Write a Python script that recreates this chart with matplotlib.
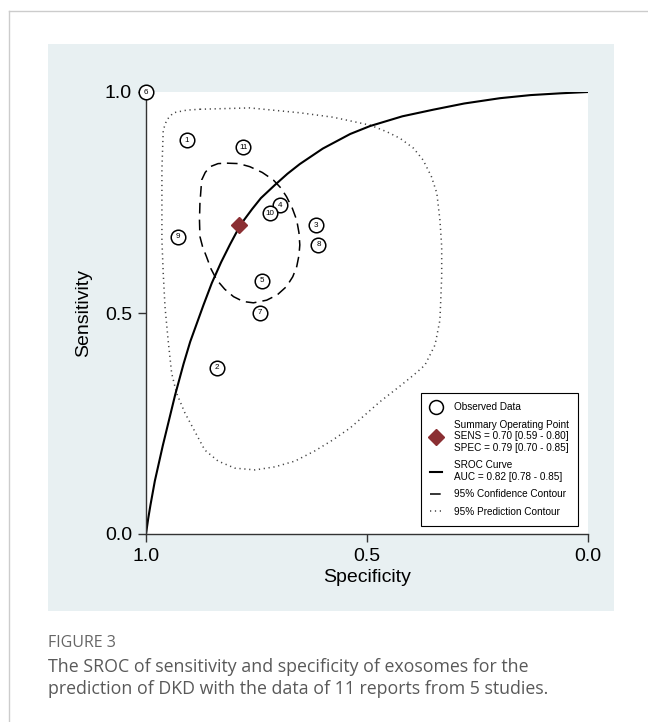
import matplotlib
matplotlib.use("Agg")
import matplotlib.pyplot as plt
from matplotlib.lines import Line2D
from matplotlib.patches import Rectangle

# observed studies (specificity, sensitivity)
study_ids = [1, 2, 3, 4, 5, 6, 7, 8, 9, 10, 11]
study_spec = [0.908, 0.839, 0.615, 0.697, 0.738, 1.000, 0.742, 0.610, 0.927, 0.719, 0.780]
study_sens = [0.891, 0.376, 0.698, 0.744, 0.573, 1.000, 0.501, 0.654, 0.673, 0.726, 0.875]

summary_spec = 0.79
summary_sens = 0.70

# SROC curve
sroc_spec = [1.0, 0.995, 0.99, 0.98, 0.962, 0.934, 0.915, 0.90, 0.87, 0.851, 0.83,
             0.81, 0.786, 0.76, 0.74, 0.708, 0.68, 0.652, 0.60, 0.538, 0.493,
             0.42, 0.35, 0.28, 0.199, 0.13, 0.063, 0.0]
sroc_sens = [0.0, 0.035, 0.065, 0.12, 0.20, 0.315, 0.385, 0.435, 0.518, 0.568, 0.615,
             0.655, 0.70, 0.735, 0.76, 0.79, 0.815, 0.837, 0.872, 0.905, 0.923,
             0.945, 0.960, 0.974, 0.986, 0.993, 0.997, 1.0]

# 95% confidence contour
conf_spec = [0.817, 0.790, 0.765, 0.737, 0.712, 0.695, 0.682, 0.669, 0.659, 0.654,
             0.652, 0.654, 0.659, 0.668, 0.682, 0.703, 0.727, 0.757, 0.780, 0.802,
             0.822, 0.840, 0.853, 0.863, 0.872, 0.878, 0.879, 0.878, 0.874, 0.866,
             0.855, 0.837, 0.817]
conf_sens = [0.839, 0.838, 0.831, 0.818, 0.801, 0.783, 0.763, 0.737, 0.710, 0.682,
             0.654, 0.630, 0.605, 0.582, 0.560, 0.541, 0.529, 0.523, 0.526, 0.537,
             0.554, 0.575, 0.600, 0.627, 0.650, 0.673, 0.710, 0.748, 0.801, 0.818,
             0.831, 0.838, 0.839]

# 95% prediction contour
pred_spec = [0.878, 0.765, 0.652, 0.577, 0.493, 0.455, 0.425, 0.395, 0.373, 0.354,
             0.342, 0.335, 0.331, 0.331, 0.335, 0.346, 0.369, 0.394, 0.425, 0.471,
             0.505, 0.538, 0.577, 0.618, 0.663, 0.708, 0.753, 0.799, 0.837, 0.867,
             0.889, 0.912, 0.931, 0.942, 0.950, 0.957, 0.961, 0.964, 0.964, 0.961,
             0.953, 0.938, 0.908, 0.878]
pred_sens = [0.961, 0.964, 0.953, 0.943, 0.925, 0.910, 0.895, 0.873, 0.846, 0.808,
             0.771, 0.710, 0.650, 0.582, 0.484, 0.428, 0.382, 0.360, 0.335, 0.299,
             0.269, 0.240, 0.213, 0.188, 0.165, 0.152, 0.145, 0.149, 0.165, 0.190,
             0.231, 0.274, 0.319, 0.364, 0.439, 0.514, 0.590, 0.665, 0.824, 0.914,
             0.937, 0.953, 0.959, 0.961]

legend_labels = [
    "Observed Data",
    "Summary Operating Point\nSENS = 0.70 [0.59 - 0.80]\nSPEC = 0.79 [0.70 - 0.85]",
    "SROC Curve\nAUC = 0.82 [0.78 - 0.85]",
    "95% Confidence Contour",
    "95% Prediction Contour",
]

ticks = [0.0, 0.5, 1.0]
caption_head = "FIGURE 3"
caption_text = ("The SROC of sensitivity and specificity of exosomes for the\n"
                "prediction of DKD with the data of 11 reports from 5 studies.")

W, H = 648, 722
DIAMOND = "#8b2f33"

plt.rcParams["font.family"] = ["Liberation Sans", "DejaVu Sans"]

fig = plt.figure(figsize=(W / 100, H / 100), dpi=100)
fig.patch.set_facecolor("white")

# page frame lines and the light panel behind the chart
fig.add_artist(Line2D([9 / W, 9 / W], [0, 1 - 11 / H], color="#cccccc", lw=1.0))
fig.add_artist(Line2D([9 / W, 1], [1 - 11 / H, 1 - 11 / H], color="#cccccc", lw=1.0))
fig.add_artist(Rectangle((48 / W, 1 - 611 / H), 566 / W, 567 / H,
                         facecolor="#e8f0f2", edgecolor="none", zorder=0))

ax = fig.add_axes([146 / W, 1 - 534 / H, 442 / W, 442 / H])
ax.set_facecolor("white")
ax.set_xlim(1.0, 0.0)
ax.set_ylim(0.0, 1.0)

ax.plot(pred_spec, pred_sens, color="#444444", lw=1.1, linestyle=(0, (0.8, 2.4)))
ax.plot(conf_spec, conf_sens, color="black", lw=1.1, linestyle=(0, (7, 4)))
ax.plot(sroc_spec, sroc_sens, color="black", lw=1.5, solid_capstyle="butt")

ax.scatter(study_spec, study_sens, s=110, facecolor="white", edgecolor="black",
           linewidth=1.1, zorder=4, clip_on=False)
for sid, xs, ys in zip(study_ids, study_spec, study_sens):
    ax.text(xs, ys, str(sid), ha="center", va="center", fontsize=5.8, zorder=5)

ax.plot([summary_spec], [summary_sens], marker="D", ms=8, color=DIAMOND,
        linestyle="none", zorder=6)

for side in ("top", "right"):
    ax.spines[side].set_visible(False)
for side in ("left", "bottom"):
    ax.spines[side].set_color("#333333")
    ax.spines[side].set_linewidth(1.0)

ax.set_xticks(ticks)
ax.set_yticks(ticks)
ax.set_xticklabels([f"{t:.1f}" for t in ticks])
ax.set_yticklabels([f"{t:.1f}" for t in ticks])
ax.tick_params(axis="both", length=6, width=1.0, color="#333333",
               labelsize=14, pad=4)
ax.set_xlabel("Specificity", fontsize=14, labelpad=3)
ax.set_ylabel("Sensitivity", fontsize=14, labelpad=9)

handles = [
    Line2D([], [], marker="o", ms=10, mfc="white", mec="black", mew=1.1, linestyle="none"),
    Line2D([], [], marker="D", ms=8.5, color=DIAMOND, linestyle="none"),
    Line2D([], [], color="black", lw=1.5),
    Line2D([], [], color="black", lw=1.1, linestyle=(0, (7, 4))),
    Line2D([], [], color="#444444", lw=1.1, linestyle=(0, (0.8, 2.4))),
]
leg = ax.legend(handles, legend_labels, loc="upper left",
                bbox_to_anchor=((421 - 146) / 442, (534 - 393) / 442),
                fontsize=7.2, frameon=True, fancybox=False, framealpha=1,
                edgecolor="black", handlelength=1.2, handletextpad=1.2,
                labelspacing=0.75, borderpad=0.9, borderaxespad=0)
leg.get_frame().set_linewidth(0.8)

fig.text(48 / W, 1 - 643 / H, caption_head, fontsize=11.5, color="#666666",
         family="Open Sans", va="center")
fig.text(48 / W, 1 - 678 / H, caption_text, fontsize=12.8, color="#595959",
         family="Open Sans", va="center", linespacing=1.3)

fig.savefig("out.png", dpi=100)
